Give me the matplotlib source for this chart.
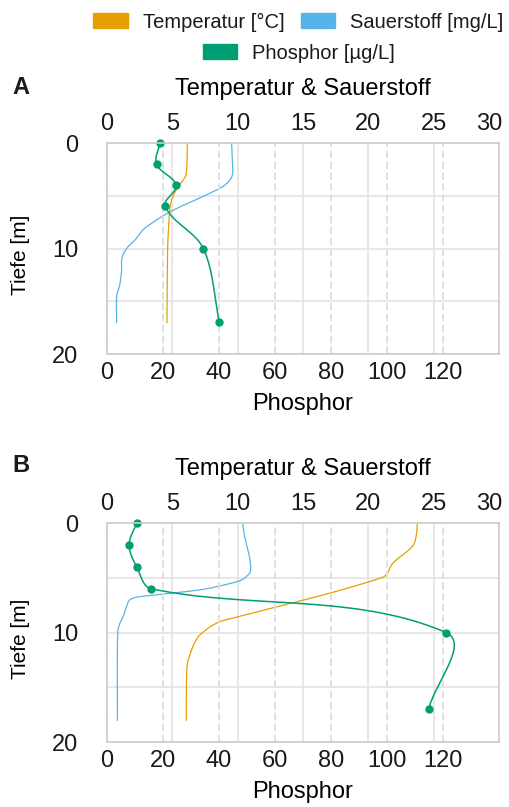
import numpy as np
import matplotlib
matplotlib.use('Agg')
import matplotlib.pyplot as plt
from matplotlib.patches import Patch
from matplotlib.ticker import MultipleLocator
from matplotlib.transforms import ScaledTranslation

plt.rcParams['font.family'] = ['Liberation Sans', 'DejaVu Sans']
plt.rcParams['text.color'] = '#1a1a1a'

TEMP_COLOR = '#E69F00'
OXY_COLOR = '#56B4E9'
PHOS_COLOR = '#009E73'

# phosphor samples (same depths in both lakes)
phos_depth = [0, 2, 4, 6, 10, 17]
phos_a = [18.9, 17.7, 24.6, 20.8, 34.4, 40.1]
phos_b = [10.6, 7.9, 10.6, 15.8, 121.1, 114.9]

# probe profiles, lake A
temp_a_depth = [0, 2.9, 3.5, 4.1, 5.0, 6.0, 7.9, 10.1, 17]
temp_a = [6.15, 6.07, 5.84, 5.46, 5.07, 4.84, 4.72, 4.64, 4.59]
oxy_a_depth = [0, 2.0, 2.9, 3.5, 4.1, 4.6, 5.2, 5.9, 6.7, 7.5, 8.2, 9.2, 9.8,
               10.5, 11.1, 12.0, 13.3, 13.9, 14.5, 17]
oxy_a = [9.54, 9.6, 9.62, 9.41, 8.9, 8.14, 7.12, 5.84, 4.57, 3.55, 2.78, 2.14,
         1.63, 1.25, 1.12, 1.12, 1.0, 0.87, 0.74, 0.74]

# probe profiles, lake B
temp_b_depth = [0, 0.9, 1.9, 2.5, 3.1, 3.7, 4.3, 4.7, 5.0, 6.4, 7.5, 8.6, 9.0,
                9.7, 10.6, 12.5, 13.6, 18]
temp_b = [23.75, 23.7, 23.5, 23.06, 22.42, 21.86, 21.58, 21.4, 21.02, 17.07,
          13.49, 9.93, 8.65, 7.63, 6.86, 6.22, 6.1, 6.07]
oxy_b_depth = [0, 1.0, 2.0, 3.0, 4.0, 4.5, 4.7, 5.2, 5.6, 6.05, 6.4, 6.75, 7.0,
               7.6, 8.5, 9.1, 10.0, 18]
oxy_b = [10.38, 10.49, 10.69, 10.89, 11.0, 10.95, 10.84, 10.3, 9.16, 7.4, 5.0,
         2.4, 1.76, 1.5, 1.25, 1.0, 0.82, 0.8]

FS = 17


def smooth_path(ax, x, y, n=30):
    # cubic hermite through the points, computed in screen space
    pts = ax.transData.transform(np.column_stack([x, y]))
    prev = np.vstack([pts[:1], pts[:-1]])
    nxt = np.vstack([pts[1:], pts[-1:]])
    tan = nxt - prev
    tan /= np.linalg.norm(tan, axis=1, keepdims=True)
    s = np.linspace(0, 1, n, endpoint=False)[:, None]
    h00 = 2 * s**3 - 3 * s**2 + 1
    h10 = s**3 - 2 * s**2 + s
    h01 = -2 * s**3 + 3 * s**2
    h11 = s**3 - s**2
    segs = []
    for i in range(len(pts) - 1):
        L = np.linalg.norm(pts[i + 1] - pts[i])
        segs.append(h00 * pts[i] + h10 * L * tan[i] + h01 * pts[i + 1] + h11 * L * tan[i + 1])
    segs.append(pts[-1:])
    xy = ax.transData.inverted().transform(np.vstack(segs))
    return xy[:, 0], xy[:, 1]


def panel(rect, temp_d, temp, oxy_d, oxy, phos):
    ax = fig.add_axes(rect)
    axp = ax.twiny()

    # temperature / oxygen scale on top
    ax.set_xlim(0, 30)
    ax.set_xticks(range(0, 31, 5))
    ax.xaxis.tick_top()
    ax.xaxis.set_label_position('top')
    ax.set_xlabel('Temperatur & Sauerstoff', fontsize=FS, labelpad=13)
    ax.set_ylim(20, 0)
    ax.set_yticks([0, 10, 20])
    ax.yaxis.set_minor_locator(MultipleLocator(5))
    ax.set_ylabel('Tiefe [m]', fontsize=15)
    ax.yaxis.set_label_coords(-0.197, 0.47)
    ax.tick_params(which='both', length=0, labelsize=FS, colors='#1a1a1a')
    ax.tick_params(axis='x', pad=6)
    ax.tick_params(axis='y', pad=20.5)
    ax.grid(True, which='both', color='#E3E3E3', lw=1.2)
    ax.set_axisbelow(True)
    for s in ax.spines.values():
        s.set_visible(False)
    # keep the "30" inside the figure edge
    last = ax.xaxis.get_major_ticks()[-1].label2
    last.set_transform(last.get_transform() + ScaledTranslation(-7 / 72, 0, fig.dpi_scale_trans))

    # phosphor scale on bottom
    axp.set_xlim(0, 140)
    axp.set_xticks(range(0, 121, 20))
    axp.xaxis.tick_bottom()
    axp.xaxis.set_label_position('bottom')
    axp.set_xlabel('Phosphor', fontsize=FS, labelpad=6.5)
    axp.tick_params(length=0, labelsize=FS, pad=5.5, colors='#1a1a1a')
    axp.grid(True, axis='x', color='#E0E0E0', lw=1.4, linestyle=(0, (3.8, 1.8)))
    axp.set_axisbelow(True)
    for s in axp.spines.values():
        s.set_color('#CCCCCC')
        s.set_linewidth(1.2)

    tx, ty = smooth_path(ax, temp, temp_d)
    ax.plot(tx, ty, color=TEMP_COLOR, lw=0.9)
    ox, oy = smooth_path(ax, oxy, oxy_d)
    ax.plot(ox, oy, color=OXY_COLOR, lw=0.9)

    px, py = smooth_path(axp, phos, phos_depth)
    axp.plot(px, py, color=PHOS_COLOR, lw=1.1)
    axp.plot(phos, phos_depth, 'o', color=PHOS_COLOR, ms=5, clip_on=False)
    return ax


fig = plt.figure(figsize=(5.09, 8.07), dpi=100)

panel([0.2102, 0.5613, 0.7701, 0.2615], temp_a_depth, temp_a, oxy_a_depth, oxy_a, phos_a)
panel([0.2102, 0.0805, 0.7701, 0.2714], temp_b_depth, temp_b, oxy_b_depth, oxy_b, phos_b)

fig.text(0.024, 0.891, 'A', fontsize=FS, fontweight='bold', va='center')
fig.text(0.024, 0.4226, 'B', fontsize=FS, fontweight='bold', va='center')

leg_kw = dict(loc='center', frameon=False, fontsize=14.5, handlelength=1.7,
              handleheight=0.8, handletextpad=0.75, columnspacing=0.8)
fig.legend(handles=[Patch(color=TEMP_COLOR, label='Temperatur [°C]'),
                    Patch(color=OXY_COLOR, label='Sauerstoff [mg/L]')],
           ncol=2, bbox_to_anchor=(0.586, 0.9727), **leg_kw)
fig.legend(handles=[Patch(color=PHOS_COLOR, label='Phosphor [µg/L]')],
           bbox_to_anchor=(0.587, 0.934), **leg_kw)

fig.savefig('out.png', dpi=100)
